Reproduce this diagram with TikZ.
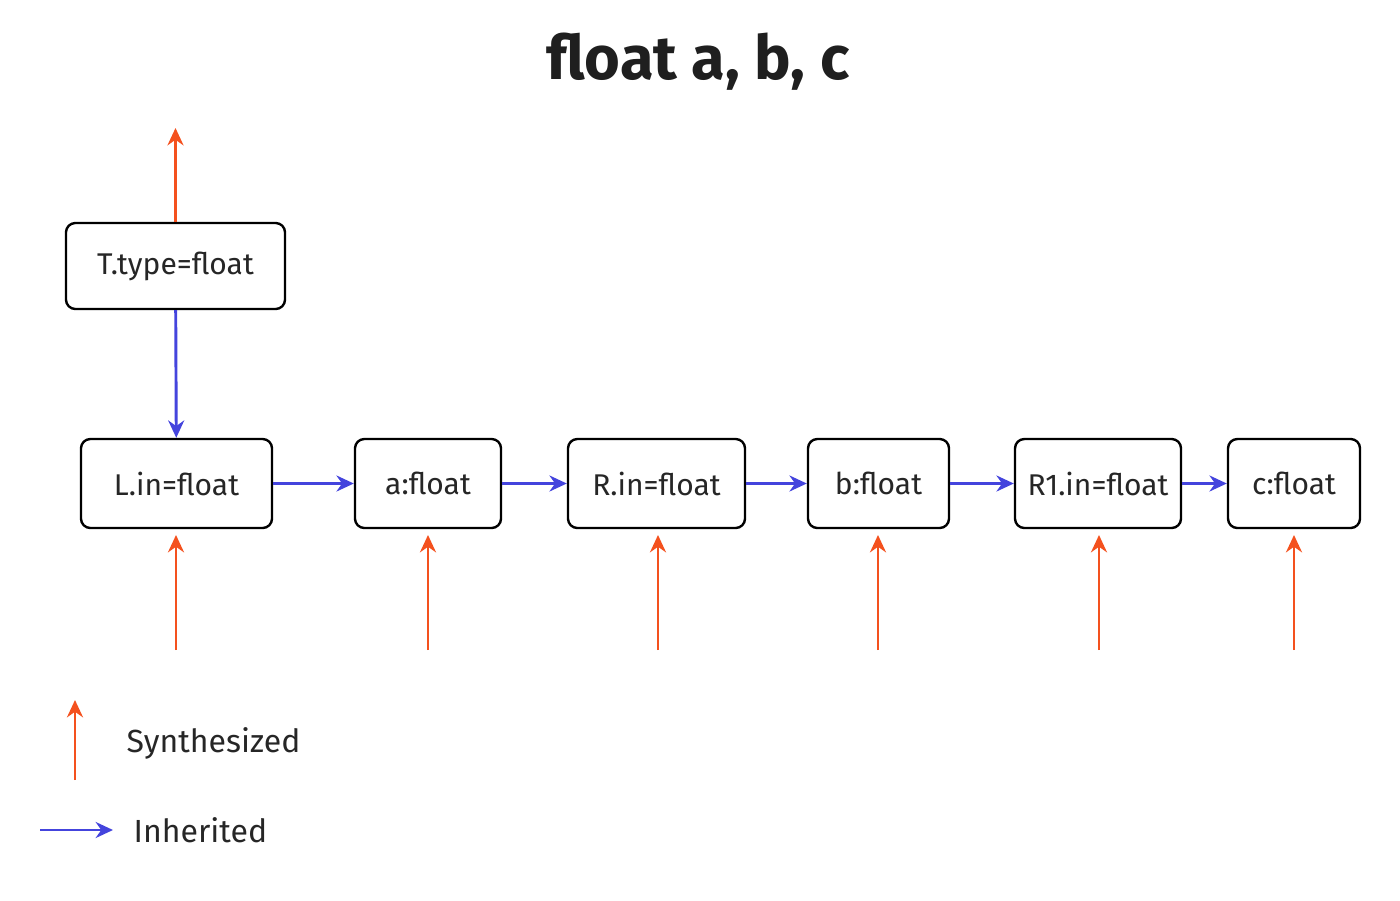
\documentclass[tikz,border=0pt]{standalone}
\usepackage{fontspec}
\setmainfont{Fira Sans}
\usetikzlibrary{arrows.meta}
\definecolor{org}{HTML}{F4511E}
\definecolor{blu}{HTML}{4444DD}
\begin{document}
\begin{tikzpicture}[x=0.75pt,y=-0.75pt,
 box/.style={draw=black,line width=1.8pt,rounded corners=7pt,inner sep=0pt,font=\fontsize{22.5}{26}\selectfont,text=black!85},
 syn/.style={draw=org,line width=2.2pt,-{Stealth[length=13pt,width=12pt]}},
 inh/.style={draw=blu,line width=2.2pt,-{Stealth[length=13pt,width=12pt]}}]
\useasboundingbox (0,0) rectangle (1400,900);
\node[font=\fontsize{46}{52}\selectfont\bfseries,text=black!88] (title) at (698,62) {float a, b, c};
\node[box,minimum width=219*0.75pt,minimum height=86*0.75pt] (T) at (175.5,266) {T.type=float};
\node[box,minimum width=191*0.75pt,minimum height=89*0.75pt] (L) at (176.5,483.5) {L.in=float};
\node[box,minimum width=146*0.75pt,minimum height=89*0.75pt] (a) at (428,483.5) {a:float};
\node[box,minimum width=177*0.75pt,minimum height=89*0.75pt] (R) at (656.5,483.5) {R.in=float};
\node[box,minimum width=141*0.75pt,minimum height=89*0.75pt] (b) at (878.5,483.5) {b:float};
\node[box,minimum width=166*0.75pt,minimum height=89*0.75pt] (R1) at (1098,483.5) {R1.in=float};
\node[box,minimum width=132*0.75pt,minimum height=89*0.75pt] (c) at (1294,483.5) {c:float};
\coordinate (Ttop) at (175.5,128);
\draw[syn] (T) -- (Ttop);
\draw[inh] (T) -- (L);
\draw[inh] (L) -- (a);
\draw[inh] (a) -- (R);
\draw[inh] (R) -- (b);
\draw[inh] (b) -- (R1);
\draw[inh] (R1) -- (c);
\foreach \n/\x in {L/176,a/428,R/658,b/878,R1/1099,c/1294}{
  \coordinate (s\n) at (\x,650);
  \draw[syn] (s\n) -- (\x,535);
}
\coordinate (ls1) at (75,780); \coordinate (ls2) at (75,700);
\draw[syn] (ls1) -- (ls2);
\node[anchor=west,font=\fontsize{24}{28}\selectfont,text=black!85] (lsyn) at (122,743) {Synthesized};
\coordinate (li1) at (40,830); \coordinate (li2) at (113,830);
\draw[inh] (li1) -- (li2);
\node[anchor=west,font=\fontsize{24}{28}\selectfont,text=black!85] (linh) at (129,830) {Inherited};
\end{tikzpicture}
\end{document}
